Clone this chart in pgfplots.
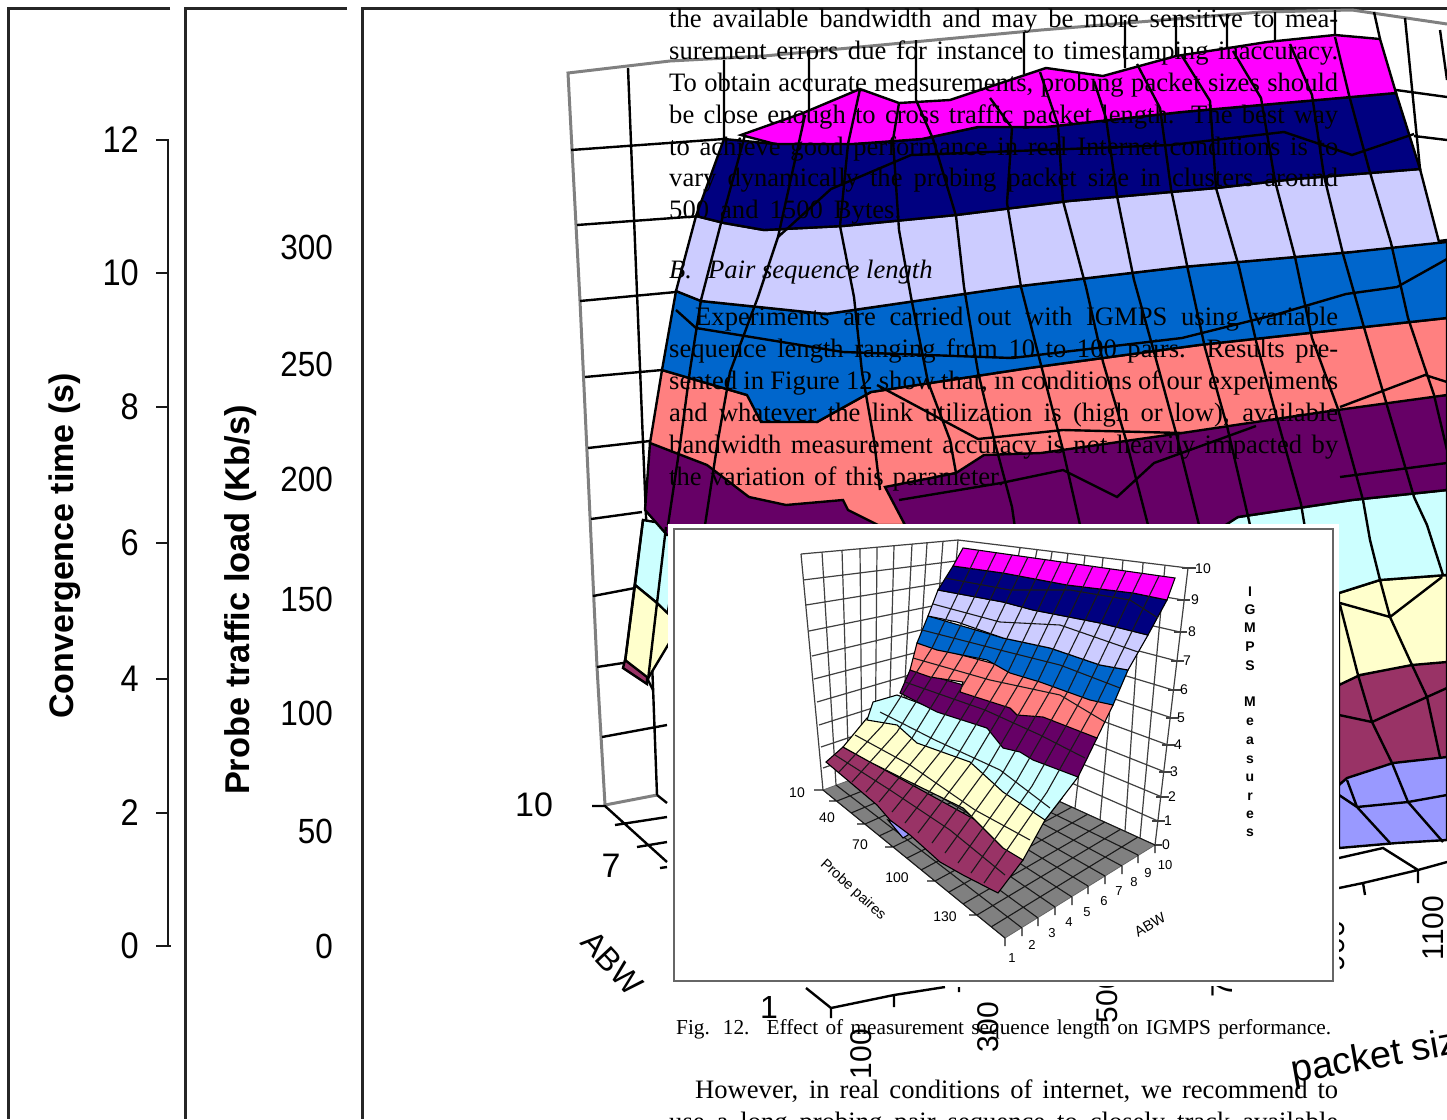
\documentclass[border=0pt]{standalone}
\usepackage{fontspec}
\usepackage{pgfplots}
\pgfplotsset{compat=1.18}
\setmainfont{Liberation Sans}
\newfontfamily\tnr{Liberation Serif}
\definecolor{cMag}{RGB}{255,0,255}
\definecolor{cNavy}{RGB}{0,0,128}
\definecolor{cLav}{RGB}{204,204,255}
\definecolor{cBlue}{RGB}{0,102,204}
\definecolor{cSal}{RGB}{255,128,128}
\definecolor{cPur}{RGB}{102,0,102}
\definecolor{cCya}{RGB}{204,255,255}
\definecolor{cCre}{RGB}{255,255,204}
\definecolor{cMar}{RGB}{153,51,102}
\definecolor{cPer}{RGB}{153,153,255}
\newcommand{\sz}[1]{\fontsize{#1}{#1}\selectfont}
\newcommand{\jl}[4]{\node[anchor=base west,inner sep=0pt] at (axis cs:#1,#2) {\tnr\sz{26.6}\hbox to #3pt{#4}};}
\newcommand{\tl}[5][0]{\node[inner sep=0pt,rotate=#1] at (axis cs:#2,#3) {\sz{#4}#5};}
\pgfplotsset{
  fr/.style={no marks,color=black!85,line width=3pt},
  gb/.style={no marks,color=black!50,line width=3pt},
  bl/.style={no marks,color=black,line width=2.4pt},
  band/.style={no marks,draw=black,line width=2.4pt,fill=#1},
  ib/.style={no marks,draw=black,line width=1.1pt,fill=#1},
  ig/.style={no marks,color=black!75,line width=1.2pt},
  im/.style={no marks,color=black!90,line width=1.1pt},
}
\begin{document}
\begin{tikzpicture}
\clip (0,0) rectangle (1447pt,1119pt);
\begin{axis}[at={(0,0)},anchor=south west,scale only axis,width=1447pt,height=1119pt,
  xmin=0,xmax=1447,ymin=0,ymax=1119,y dir=reverse,hide axis,clip=false,unbounded coords=jump]
% panel frames
\addplot[fr] coordinates {(170,8) (8,8) (8,1119)};
\addplot[fr] coordinates {(347,8) (185,8) (185,1119)};
\addplot[fr] coordinates {(1447,8) (362,8) (362,1119)};
% left axis
\addplot[no marks,color=black!90,line width=2.2pt] coordinates {(156,140) (168,140) (168,946) (nan,nan) (156,273) (168,273) (nan,nan) (156,407) (168,407) (nan,nan) (156,543) (168,543) (nan,nan) (156,679) (168,679) (nan,nan) (156,813) (168,813) (nan,nan) (156,946) (171,946)};
% big chart: back wall
\addplot[gb] coordinates {(657,795) (605,805) (597,667) (580,301) (568,73) (670,61) (764,56) (1041,30) (1261,12) (1352,10) (1447,24)};
\addplot[bl] coordinates {(571,150) (724,139) (nan,nan) (577,225) (701,216) (nan,nan) (580,301) (676,292) (nan,nan) (585,377) (662,370) (nan,nan) (588,448) (650,441) (nan,nan) (591,519) (642,512) (nan,nan) (593,596) (635,588) (nan,nan) (597,667) (623,663) (nan,nan) (602,737) (667,725)
 (nan,nan) (628,68) (637,293) (643,443) (653,687) (657,795)
 (nan,nan) (724,60) (724,139) (nan,nan) (809,50) (809,113) (nan,nan) (916,40) (916,100) (nan,nan) (1024,32) (1024,74) (nan,nan) (1125,20) (1125,68) (nan,nan) (1176,16) (1176,56) (nan,nan) (1227,14) (1227,50) (nan,nan) (1275,12) (1275,42) (nan,nan) (1335,10) (1335,37) (nan,nan) (1374,12) (1380,39) (nan,nan) (1405,18) (1420,169) (nan,nan) (1396,90) (1447,97) (nan,nan) (1414,136) (1447,140) (nan,nan) (1440,30) (1447,80)};
% big chart: floor bits
\addplot[bl] coordinates {(592,806) (605,806) (667,862) (nan,nan) (657,795) (667,803) (nan,nan) (615,825) (667,817) (nan,nan) (637,847) (667,842) (nan,nan) (660,868) (667,867)
 (nan,nan) (806,988) (831,1008) (894,995) (945,987) (nan,nan) (831,1008) (831,1018) (nan,nan) (894,995) (894,1007) (nan,nan) (959,987) (959,992)
 (nan,nan) (1339,888) (1363,883) (1418,870) (1447,862) (nan,nan) (1339,858) (1383,848) (1418,870) (nan,nan) (1418,870) (1418,883) (nan,nan) (1363,883) (1365,895)};
% big chart: bands
\addplot[band=cPer] coordinates {(1339,760) (1447,740) (1447,840) (1397,843) (1339,848)} --cycle;
\addplot[band=cMar] coordinates {(1339,680) (1447,655) (1447,757) (1393,763) (1347,778) (1339,785)} --cycle;
\addplot[band=cCre] coordinates {(1339,593) (1380,580) (1447,575) (1447,662) (1412,665) (1360,675) (1339,685)} --cycle;
\addplot[band=cCya] coordinates {(1210,524) (1238,517) (1352,500) (1447,490) (1447,575) (1380,580) (1339,593) (1200,600)} --cycle;
\addplot[band=cCya] coordinates {(643,520) (667,524) (680,540) (667,617) (657,603) (635,585)} --cycle;
\addplot[band=cCre] coordinates {(635,585) (657,603) (680,625) (647,680) (625,662)} --cycle;
\addplot[band=cMar] coordinates {(625,660) (647,677) (647,684) (623,668)} --cycle;
\addplot[band=cPur] coordinates {(650,443) (1447,395) (1447,490) (1352,500) (1238,517) (1210,535) (667,535) (645,510)} --cycle;
\addplot[band=cSal] coordinates {(662,370) (747,395) (817,422) (871,392) (1029,368) (1199,345) (1447,318) (1447,395) (1323,412) (1182,433) (1041,453) (984,455) (956,473) (885,487) (905,525) (878,525) (848,510) (843,500) (786,505) (749,497) (707,465) (650,443)} --cycle;
\addplot[band=cBlue] coordinates {(676,291) (701,301) (826,314) (1012,287) (1182,267) (1352,252) (1447,240) (1447,318) (1199,345) (1029,368) (871,392) (817,422) (761,422) (747,395) (662,370)} --cycle;
\addplot[band=cLav] coordinates {(696,216) (724,223) (764,230) (843,226) (956,215) (1069,201) (1216,188) (1295,179) (1420,169) (1439,242) (1447,242) (1352,252) (1182,267) (1012,287) (826,314) (701,301) (676,291)} --cycle;
\addplot[band=cNavy] coordinates {(724,139) (775,144) (854,144) (922,139) (978,127) (1046,127) (1182,112) (1340,98) (1396,93) (1420,169) (1295,179) (1216,188) (1069,201) (956,215) (843,226) (764,230) (724,223) (696,216)} --cycle;
\addplot[band=cMag] coordinates {(741,135) (803,113) (860,89) (899,103) (950,100) (1046,68) (1103,76) (1176,56) (1222,49) (1267,42) (1335,35) (1380,39) (1396,93) (1340,98) (1182,112) (1046,127) (978,127) (922,139) (854,144) (775,144)} --cycle;
% big chart: mesh
\addplot[bl] coordinates {
(745,135) (721,223) (701,300) (690,370) (680,445) (668,525) (nan,nan)
(805,115) (778,237) (758,297) (730,372) (718,440) (705,525) (nan,nan)
(860,89) (848,144) (840,226) (854,297) (862,372) (874,440) (880,490) (nan,nan)
(899,103) (893,140) (899,230) (911,297) (928,382) (950,440) (956,473) (nan,nan)
(916,100) (933,139) (956,216) (964,287) (978,372) (995,443) (1012,507) (1015,528) (nan,nan)
(990,98) (1012,128) (1007,203) (1021,287) (1041,365) (1063,450) (1080,525) (nan,nan)
(1040,72) (1058,125) (1063,201) (1086,287) (1103,362) (1126,440) (1148,525) (nan,nan)
(1094,81) (1106,118) (1117,196) (1134,280) (1154,352) (1176,433) (1199,525) (nan,nan)
(1137,64) (1160,108) (1171,189) (1188,270) (1205,348) (1227,426) (1250,525) (nan,nan)
(1182,56) (1210,101) (1216,188) (1239,267) (1256,341) (1278,422) (1301,504) (1305,528) (nan,nan)
(1233,51) (1261,98) (1275,181) (1295,257) (1312,338) (1338,409) (1363,500) (1370,540) (1380,580) (nan,nan)
(1290,44) (1312,95) (1324,176) (1343,254) (1363,324) (1386,402) (1414,497) (1427,525) (1443,575) (nan,nan)
(1335,37) (1349,95) (1369,169) (1391,243) (1408,318) (1434,395) (1447,450) (nan,nan)
(831,189) (911,155) (1069,149) (1171,145) (1284,132) (1352,155) (1414,134) (nan,nan)
(778,237) (831,189) (nan,nan)
(676,310) (696,328) (843,352) (1012,358) (1182,338) (1278,314) (1346,294) (1397,287) (1447,259) (nan,nan)
(877,385) (978,439) (1063,430) (1182,433) (nan,nan)
(1340,407) (1425,375) (1447,382) (nan,nan)
(899,500) (1001,483) (1063,470) (1117,497) (1154,463) (1256,426) (nan,nan)
(1340,477) (1447,463) (nan,nan)
(643,520) (635,582) (625,662) (nan,nan)
(666,527) (657,603) (648,680) (653,690) (nan,nan)
(1340,603) (1390,617) (1442,577) (nan,nan)
(1380,580) (1390,617) (1412,665) (1427,697) (1440,757) (nan,nan)
(1340,605) (1358,675) (1372,722) (1392,763) (1408,802) (1443,842) (nan,nan)
(1339,715) (1372,722) (1427,697) (1447,688) (nan,nan)
(1339,795) (1357,807) (1408,802) (1447,795) (nan,nan)
(1357,807) (1390,843) (nan,nan)
(1347,780) (1357,807)
};
% rotated labels of the big chart (partly hidden by the inset)
\tl[90]{861}{1054}{30}{100}
\tl[90]{988}{1027}{30}{300}
\tl[90]{1107}{998}{30}{500}
\tl[90]{1222}{972}{30}{700}
\tl[90]{1334}{946}{30}{900}
\tl[90]{1433}{928}{30}{1100}
\tl{769}{1007}{32}{1}
\tl{534}{805}{34}{10}
\tl{611}{866}{34}{7}
\tl[-47]{612}{963}{32}{ABW}
\node[anchor=base west,inner sep=0pt,rotate=10] at (axis cs:1293,1083) {\sz{38}packet size};
% inset paper
\addplot[no marks,draw=none,fill=white] coordinates {(668,524) (1339,524) (1339,986) (668,986)} --cycle;
\addplot[no marks,draw=black!60,line width=2pt] coordinates {(674,529) (1333,529) (1333,981) (674,981)} --cycle;
% inset walls
\addplot[ig] coordinates {(801,554) (823,790) (nan,nan) (801,554) (958,540) (1188,568) (1155,845) (nan,nan) (958,540) (940,747)
(nan,nan) (803,580) (956,561) (nan,nan) (806,605) (954,581) (nan,nan) (809,631) (952,602) (nan,nan) (812,656) (950,623) (nan,nan) (814,679) (949,644) (nan,nan) (817,702) (947,664) (nan,nan) (819,725) (945,685) (nan,nan) (821,747) (943,706) (nan,nan) (823,768) (942,726)
(nan,nan) (822,552) (836,785) (nan,nan) (842,550) (849,780) (nan,nan) (860,548) (862,775) (nan,nan) (877,547) (875,770) (nan,nan) (894,546) (888,765) (nan,nan) (912,544) (901,760) (nan,nan) (927,543) (914,755) (nan,nan) (943,541) (927,752)
(nan,nan) (956,561) (1183,600) (nan,nan) (954,581) (1180,632) (nan,nan) (952,602) (1177,661) (nan,nan) (950,623) (1173,690) (nan,nan) (949,644) (1172,718) (nan,nan) (947,664) (1168,745) (nan,nan) (945,685) (1165,772) (nan,nan) (943,706) (1162,797) (nan,nan) (942,726) (1158,821)
(nan,nan) (1020,548) (975,763) (nan,nan) (1037,550) (993,771) (nan,nan) (1052,552) (1015,781) (nan,nan) (1068,553) (1036,791) (nan,nan) (1085,555) (1057,800) (nan,nan) (1103,558) (1075,808) (nan,nan) (1123,560) (1100,820) (nan,nan) (1143,563) (1125,831)
(nan,nan) (1165,565) (1140,838)};
\addplot[ig] coordinates {(1182,568) (1196,568) (nan,nan) (1177,600) (1190,600) (nan,nan) (1174,632) (1187,632) (nan,nan) (1171,661) (1184,661) (nan,nan) (1168,690) (1181,690) (nan,nan) (1166,718) (1179,718) (nan,nan) (1162,745) (1175,745) (nan,nan) (1159,772) (1172,772) (nan,nan) (1156,797) (1169,797) (nan,nan) (1152,821) (1165,821) (nan,nan) (1149,845) (1162,845)};
% inset floor
\addplot[no marks,draw=black!60,line width=0.8pt,fill=black!50] coordinates {(823,790) (1005,938) (1155,845) (940,747)} --cycle;
\addplot[no marks,color=black!90,line width=1.1pt] coordinates {
(1005,938) (823,790) (nan,nan) (1022,928) (836,785) (nan,nan) (1038,918) (849,780) (nan,nan) (1055,907) (862,775) (nan,nan) (1072,897) (875,770) (nan,nan) (1088,886) (888,765) (nan,nan) (1105,876) (901,760) (nan,nan) (1122,866) (914,755) (nan,nan) (1138,855) (927,752) (nan,nan) (1155,845) (940,747) (nan,nan)
(837,801) (956,754) (nan,nan) (851,813) (973,762) (nan,nan) (865,824) (989,769) (nan,nan) (879,836) (1006,777) (nan,nan) (893,847) (1022,784) (nan,nan) (907,858) (1039,792) (nan,nan) (921,870) (1055,799) (nan,nan) (935,881) (1072,807) (nan,nan) (949,892) (1088,814) (nan,nan) (963,904) (1105,822) (nan,nan) (977,915) (1121,829) (nan,nan) (991,927) (1138,837) (nan,nan)
(1005,938) (1005,946) (nan,nan) (1022,928) (1022,936) (nan,nan) (1038,918) (1038,926) (nan,nan) (1055,907) (1055,915) (nan,nan) (1072,897) (1072,905) (nan,nan) (1088,886) (1088,894) (nan,nan) (1105,876) (1105,884) (nan,nan) (1122,866) (1122,874) (nan,nan) (1138,855) (1138,863) (nan,nan) (1155,845) (1155,853) (nan,nan)
(814,790) (823,790) (nan,nan) (829,801) (837,801) (nan,nan) (857,824) (865,824) (nan,nan) (885,847) (893,847) (nan,nan) (927,881) (935,881) (nan,nan) (969,915) (977,915)};
% inset surface
\addplot[ib=cPer] coordinates {(888,820) (910,827) (908,835) (903,838)} --cycle;
\addplot[ib=cMar] coordinates {(843,747) (1003,835) (1023,860) (998,893) (963,875) (940,862) (910,835) (890,820) (877,805) (826,762)} --cycle;
\addplot[ib=cCre] coordinates {(867,718) (900,715) (1003,770) (1062,798) (1045,820) (1023,860) (1003,848) (963,808) (910,782) (870,762) (843,747)} --cycle;
\addplot[ib=cCya] coordinates {(897,695) (1020,740) (1078,777) (1062,798) (1045,820) (1003,792) (970,762) (917,743) (897,725) (867,720) (873,702)} --cycle;
\addplot[ib=cPur] coordinates {(910,670) (1017,700) (1097,738) (1078,777) (1033,760) (1020,752) (1003,748) (987,728) (937,712) (900,693)} --cycle;
\addplot[ib=cSal] coordinates {(917,643) (1010,668) (1113,705) (1097,738) (1043,717) (1017,715) (1010,708) (960,692) (963,682) (930,677) (910,670)} --cycle;
\addplot[ib=cBlue] coordinates {(928,616) (1003,638) (1050,648) (1100,665) (1128,670) (1113,705) (1090,700) (1040,682) (1010,673) (987,660) (937,650) (917,643)} --cycle;
\addplot[ib=cLav] coordinates {(938,590) (1003,602) (1033,610) (1100,623) (1148,635) (1128,670) (1100,665) (1050,648) (1003,638) (957,622) (928,616)} --cycle;
\addplot[ib=cNavy] coordinates {(953,566) (1003,573) (1067,585) (1133,593) (1167,600) (1148,635) (1100,623) (1033,610) (1003,602) (938,590)} --cycle;
\addplot[ib=cMag] coordinates {(963,548) (1175,578) (1167,600) (1133,593) (1067,585) (1003,573) (953,566)} --cycle;
\addplot[im] coordinates {
(979,550) (932,648) (882,726) (839,772) (nan,nan) (996,553) (947,653) (897,732) (852,782) (nan,nan) (1012,555) (962,657) (912,738) (866,792) (nan,nan) (1028,557) (977,662) (927,744) (879,802) (nan,nan) (1045,560) (993,667) (942,750) (892,812) (nan,nan) (1061,562) (1008,672) (957,756) (905,823) (nan,nan) (1077,564) (1023,677) (972,762) (918,833) (nan,nan) (1093,566) (1038,681) (987,768) (932,843) (nan,nan) (1110,569) (1053,686) (1002,774) (945,853) (nan,nan) (1126,571) (1068,691) (1017,780) (958,863) (nan,nan) (1142,573) (1083,696) (1032,786) (971,873) (nan,nan) (1159,576) (1098,701) (1047,792) (984,883) (nan,nan)
(945,578) (1010,590) (1070,590) (1130,600) (1158,618) (nan,nan) (933,604) (1000,622) (1060,625) (1138,652) (nan,nan) (922,630) (1000,650) (1060,665) (1120,688) (nan,nan) (913,658) (990,680) (1060,695) (1105,722) (nan,nan) (905,682) (985,710) (1040,735) (1085,758) (nan,nan) (880,712) (935,740) (1000,770) (1050,808) (nan,nan) (855,735) (910,765) (975,810) (1030,840) (nan,nan) (835,755) (890,790) (950,830) (1005,875)};
% inset texts
\tl{1203}{569}{14}{10}\tl{1195}{600}{14}{9}\tl{1192}{632}{14}{8}\tl{1187}{661}{14}{7}\tl{1184}{690}{14}{6}\tl{1181}{718}{14}{5}\tl{1178}{745}{14}{4}\tl{1174}{772}{14}{3}\tl{1172}{797}{14}{2}\tl{1168}{821}{14}{1}\tl{1166}{845}{14}{0}
\tl{1165}{865}{13}{10}\tl{1148}{873}{13}{9}\tl{1134}{882}{13}{8}\tl{1119}{891}{13}{7}\tl{1104}{901}{13}{6}\tl{1087}{912}{13}{5}\tl{1069}{922}{13}{4}\tl{1052}{933}{13}{3}\tl{1032}{945}{13}{2}\tl{1012}{958}{13}{1}
\tl{797}{793}{14}{10}\tl{827}{818}{14}{40}\tl{860}{845}{14}{70}\tl{897}{878}{14}{100}\tl{945}{917}{14}{130}
\tl[-42]{853}{890}{14.5}{Probe paires}
\tl[30]{1150}{925}{14.5}{ABW}
\tl{1250}{592}{14}{\bfseries I}\tl{1250}{610}{14}{\bfseries G}\tl{1250}{628}{14}{\bfseries M}\tl{1250}{647}{14}{\bfseries P}\tl{1250}{666}{14}{\bfseries S}\tl{1250}{702}{14}{\bfseries M}\tl{1250}{722}{14}{\bfseries e}\tl{1250}{741}{14}{\bfseries a}\tl{1250}{760}{14}{\bfseries s}\tl{1250}{778}{14}{\bfseries u}\tl{1250}{797}{14}{\bfseries r}\tl{1250}{815}{14}{\bfseries e}\tl{1250}{833}{14}{\bfseries s}
% left panel texts
\node[anchor=east,inner sep=0pt,xscale=.88] at (axis cs:139,140) {\sz{37}12};
\node[anchor=east,inner sep=0pt,xscale=.88] at (axis cs:139,273) {\sz{37}10};
\node[anchor=east,inner sep=0pt,xscale=.88] at (axis cs:139,407) {\sz{37}8};
\node[anchor=east,inner sep=0pt,xscale=.88] at (axis cs:139,543) {\sz{37}6};
\node[anchor=east,inner sep=0pt,xscale=.88] at (axis cs:139,679) {\sz{37}4};
\node[anchor=east,inner sep=0pt,xscale=.88] at (axis cs:139,813) {\sz{37}2};
\node[anchor=east,inner sep=0pt,xscale=.88] at (axis cs:139,946) {\sz{37}0};
\node[anchor=east,inner sep=0pt,xscale=.9] at (axis cs:333,247) {\sz{35}300};
\node[anchor=east,inner sep=0pt,xscale=.9] at (axis cs:333,364) {\sz{35}250};
\node[anchor=east,inner sep=0pt,xscale=.9] at (axis cs:333,479) {\sz{35}200};
\node[anchor=east,inner sep=0pt,xscale=.9] at (axis cs:333,599) {\sz{35}150};
\node[anchor=east,inner sep=0pt,xscale=.9] at (axis cs:333,713) {\sz{35}100};
\node[anchor=east,inner sep=0pt,xscale=.9] at (axis cs:333,831) {\sz{35}50};
\node[anchor=east,inner sep=0pt,xscale=.9] at (axis cs:333,946) {\sz{35}0};
\tl[90]{65}{546}{34}{\bfseries Convergence time (s)}
\tl[90]{241}{600}{34.4}{\bfseries Probe traffic load (Kb/s)}
% paper text
\jl{669}{27}{669}{the available bandwidth and may be more sensitive to mea-}
\jl{669}{59}{669}{surement errors due for instance to timestamping inaccuracy.}
\jl{669}{91}{669}{To obtain accurate measurements, probing packet sizes should}
\jl{669}{123}{669}{be close enough to cross traffic packet length. The best way}
\jl{669}{155}{669}{to achieve good performance in real Internet conditions is to}
\jl{669}{186}{669}{vary dynamically the probing packet size in clusters around}
\jl{669}{218}{232}{500 and 1500 Bytes.}
\node[anchor=base west,inner sep=0pt] at (axis cs:669,278) {\tnr\sz{26.6}\itshape B.\hspace{0.6em}Pair sequence length};
\jl{695}{325}{643}{Experiments are carried out with IGMPS using variable}
\jl{669}{357}{669}{sequence length ranging from 10 to 100 pairs. Results pre-}
\jl{669}{389}{669}{sented in Figure 12 show that, in conditions of our experiments}
\jl{669}{421}{669}{and whatever the link utilization is (high or low), available}
\jl{669}{453}{669}{bandwidth measurement accuracy is not heavily impacted by}
\jl{669}{485}{335}{the variation of this parameter.}
\node[anchor=base west,inner sep=0pt] at (axis cs:676,1034) {\tnr\sz{21.3}\hbox to 655pt{Fig. 12.\hspace{0.8em}Effect of measurement sequence length on IGMPS performance.}};
\jl{695}{1098}{643}{However, in real conditions of internet, we recommend to}
\jl{669}{1130}{669}{use a long probing pair sequence to closely track available}
\end{axis}
\end{tikzpicture}
\end{document}
